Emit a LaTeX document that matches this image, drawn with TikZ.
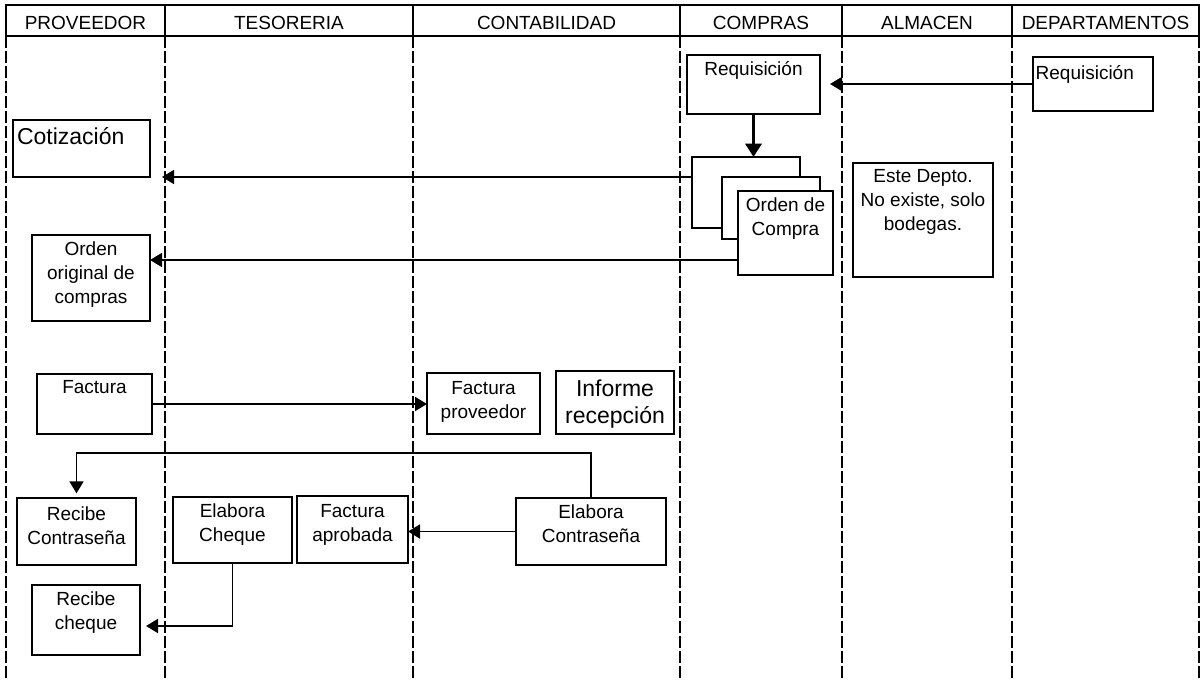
\documentclass[tikz,border=0pt]{standalone}
\usepackage{fontspec}
\setmainfont{Liberation Sans}
\usetikzlibrary{arrows.meta,fit,calc}

\begin{document}
\begin{tikzpicture}[x=0.75pt,y=-0.75pt,
  every node/.style={inner sep=0pt,outer sep=0pt},
  norm/.style={font=\fontsize{14.25pt}{18pt}\selectfont},
  big/.style={font=\fontsize{17.25pt}{20.25pt}\selectfont},
  hcell/.style={draw,line width=1.5pt},
  htxt/.style={norm,anchor=center,yshift=-1.5pt},
  lane/.style={line width=1.6pt,dash pattern=on 9pt off 2.25pt},
  box/.style={draw,line width=1.35pt,fill=white},
  txt/.style={anchor=north,align=center,yshift=-5pt,norm},
  arr/.style={line width=1.3pt,-{Triangle[length=9pt,width=10.5pt]}},
  bigarr/.style={line width=2.4pt,-{Triangle[length=10pt,width=12pt]}}
]
\useasboundingbox (0,0) rectangle (1203,681);

% swimlane separators
\foreach \x in {6,165,413,680,842,1012,1199}
  \draw[lane] (\x,36) -- (\x,681);

% header row
\node[hcell,fit={(6,5) (165,36)},label={[htxt]center:PROVEEDOR}]        (h1) {};
\node[hcell,fit={(165,5) (413,36)},label={[htxt]center:TESORERIA}]      (h2) {};
\node[hcell,fit={(413,5) (680,36)},label={[htxt]center:CONTABILIDAD}]   (h3) {};
\node[hcell,fit={(680,5) (842,36)},label={[htxt]center:COMPRAS}]        (h4) {};
\node[hcell,fit={(842,5) (1012,36)},label={[htxt]center:ALMACEN}]       (h5) {};
\node[hcell,fit={(1012,5) (1199,36)},label={[htxt]center:DEPARTAMENTOS}] (h6) {};

% COMPRAS
\node[box,fit={(687,55) (820,114)},label={[txt]north:Requisición}] (rq1) {};
\node[box,fit={(692,157) (800,228)}] (oc1) {};
\node[box,fit={(722,177) (820,239)}] (oc2) {};
\node[box,fit={(738,191) (833,275)},label={[txt]north:Orden de\\Compra}] (oc3) {};

% DEPARTAMENTOS
\node[box,fit={(1033,57) (1153,111)},
  label={[txt,anchor=north west,xshift=2pt,yshift=-1.5pt]north west:Requisición}] (rd) {};

% ALMACEN
\node[box,fit={(853,163) (993,277)},
  label={[txt]north:Este Depto.\\No existe, solo\\bodegas.}] (ed) {};

% PROVEEDOR
\node[box,fit={(13,120) (150,177)},
  label={[txt,big,anchor=north west,xshift=3pt,yshift=-1pt]north west:Cotización}] (cot) {};
\node[box,fit={(32,235) (150,321)},
  label={[txt]north:Orden\\original de\\compras}] (oo) {};
\node[box,fit={(37,374) (152,434)},label={[txt]north:Factura}] (fa) {};
\node[box,fit={(17,498) (136,565)},
  label={[txt,yshift=-1.5pt]north:Recibe\\Contraseña}] (rcn) {};
\node[box,fit={(32,585) (140,655)},label={[txt]north:Recibe\\cheque}] (rch) {};

% TESORERIA
\node[box,fit={(173,497) (292,563)},label={[txt]north:Elabora\\Cheque}] (ech) {};
\node[box,fit={(297,496) (408,563)},
  label={[txt,yshift=-1.5pt]north:Factura\\aprobada}] (fap) {};

% CONTABILIDAD
\node[box,fit={(427,373) (540,434)},label={[txt,yshift=-1pt]north:Factura\\proveedor}] (fp) {};
\node[box,fit={(556,371) (674,434)},
  label={[txt,big,yshift=-2pt]north:Informe\\recepción}] (ir) {};
\node[box,fit={(516,498) (666,565)},label={[txt]north:Elabora\\Contraseña}] (ecn) {};

% connectors
\coordinate (tA) at ($(rq1.east)+(10,0)$);
\draw[arr] (rd.west) -- (rd.west -| tA);
\draw[bigarr] (rq1.south) -- (rq1.south |- oc1.north);
\coordinate (tB) at (162,177);
\draw[arr] (oc1.west |- tB) -- (tB);
\coordinate (tC) at (150,260);
\draw[arr] (oc3.west |- tC) -- (tC);
\draw[arr] (fa.east) -- (fa.east -| fp.west);
\draw[arr] (ecn.west) -- (ecn.west -| fap.east);
\draw[arr,shorten >=3.5pt] (ecn.north) -- ++(0,-45) -| (rcn.north);
\coordinate (tD) at ($(rch.east)+(6,6)$);
\draw[arr] (ech.south) |- (tD);
\end{tikzpicture}
\end{document}
